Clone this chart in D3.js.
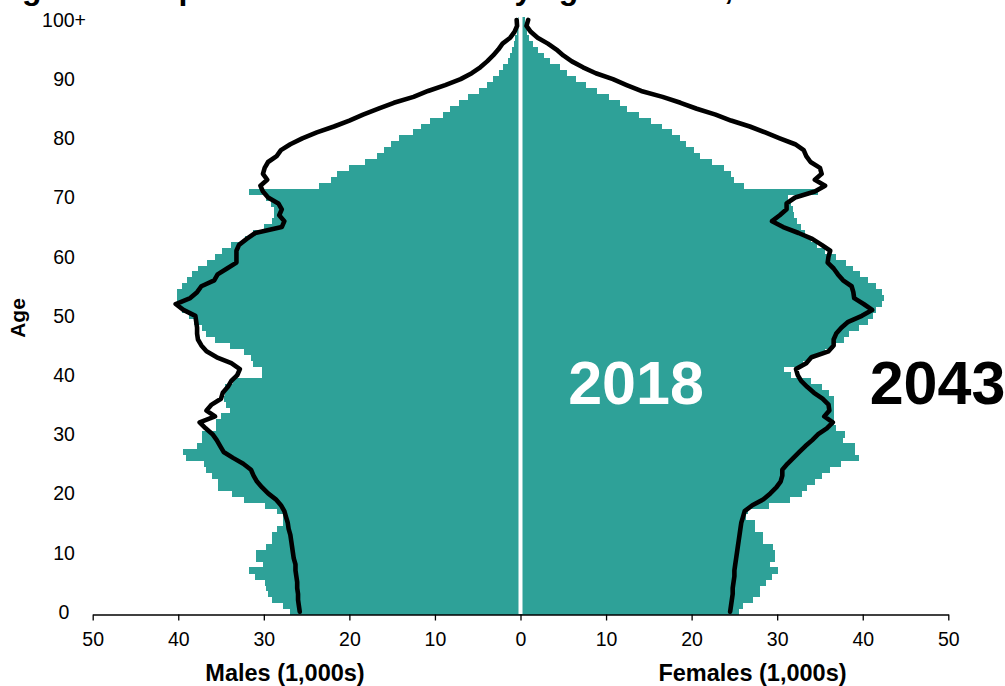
<!DOCTYPE html>
<html><head><meta charset="utf-8">
<script src="https://cdn.jsdelivr.net/npm/d3@7"></script>
<style>
html,body{margin:0;padding:0;background:#fff;}
svg{display:block;font-family:"Liberation Sans",Arial,sans-serif;}
</style></head><body>
<svg id="chart" width="1005" height="686"></svg>
<script>
// ---- Data (thousands of people) ----
const ages = d3.range(0, 101); // 0 .. 100+ (single years)
const ageTickValues = [0, 10, 20, 30, 40, 50, 60, 70, 80, 90, 100];
const ageTickLabels = ["0", "10", "20", "30", "40", "50", "60", "70", "80", "90", "100+"];
const xTickValues = [-50, -40, -30, -20, -10, 0, 10, 20, 30, 40, 50];

const male2018 = [
 26.9,27.8,29.1,29.5,29.7,29.9,31.0,31.7,30.1,30.9,
 30.9,29.8,29.1,29.1,28.5,27.7,27.7,28.5,29.9,32.3,
 33.7,35.3,35.3,36.0,36.7,37.0,39.1,39.4,37.8,37.2,
 37.2,35.6,35.6,35.0,33.9,34.4,34.6,34.5,34.5,33.6,
 30.2,30.2,31.3,31.5,32.3,34.0,35.7,36.7,37.2,38.2,
 38.8,39.6,40.0,40.2,40.1,39.6,39.0,38.4,37.7,36.6,
 35.7,34.9,33.8,32.2,31.3,30.0,29.0,28.8,28.8,29.2,
 29.7,31.7,23.5,22.2,21.5,20.0,18.2,16.8,16.0,15.1,
 14.2,12.6,11.6,10.6,9.1,8.2,7.2,6.1,4.9,3.9,
 3.2,2.5,2.0,1.5,1.2,0.95,0.8,0.6,0.45,0.35,
 0.3
];
const female2018 = [
 25.5,26.0,27.2,28.0,28.0,28.7,29.4,30.1,29.2,29.7,
 29.7,29.5,28.4,28.4,27.4,27.4,26.4,26.6,29.0,31.5,
 32.9,33.5,34.4,35.2,36.2,37.5,39.6,39.1,39.1,37.7,
 37.9,36.9,36.6,36.6,36.6,36.6,36.6,36.0,35.2,34.0,
 31.6,30.8,33.0,33.8,35.6,36.6,37.8,38.4,39.6,40.6,
 41.2,41.5,42.2,42.5,42.3,41.6,40.6,39.7,38.9,38.1,
 36.9,35.6,34.6,34.0,33.3,32.8,32.3,32.0,31.8,31.6,
 31.3,34.8,26.1,25.0,24.6,23.8,22.4,21.0,20.3,19.4,
 18.6,17.7,16.5,15.3,13.9,12.5,11.6,10.4,8.9,7.7,
 6.5,5.4,4.6,3.4,2.7,2.1,1.5,1.0,0.8,0.6,
 0.5
];
const male2043 = [
 25.8,25.9,26.0,26.0,26.1,26.1,26.2,26.3,26.3,26.5,
 26.6,26.7,26.8,26.9,27.1,27.2,27.4,27.6,28.0,28.6,
 29.5,30.2,30.8,31.2,31.5,32.4,33.6,34.7,35.1,35.5,
 36.0,36.8,37.5,35.7,36.7,36.1,35.0,34.8,34.2,33.8,
 33.1,32.8,33.8,35.5,36.7,37.3,37.7,37.8,37.8,37.9,
 38.0,39.4,40.3,38.6,37.8,37.3,35.8,35.4,34.3,33.2,
 33.2,33.2,32.9,32.0,31.0,27.9,27.6,28.2,27.9,28.3,
 29.5,30.1,30.4,29.6,30.1,29.9,29.5,28.5,28.0,26.9,
 25.5,23.8,21.8,20.0,18.4,16.6,14.8,12.5,10.8,8.8,
 7.0,5.7,4.7,3.9,3.2,2.6,2.1,1.2,0.7,0.4,
 0.45
];
const female2043 = [
 24.5,24.6,24.7,24.8,24.8,24.9,25.0,25.0,25.1,25.2,
 25.3,25.4,25.5,25.6,25.7,25.8,26.0,26.2,27.1,28.4,
 29.2,29.9,30.4,30.6,30.6,31.2,31.9,32.6,33.3,34.1,
 34.8,35.8,36.5,35.5,36.1,36.0,35.3,34.3,33.5,32.8,
 32.4,32.2,33.4,34.0,36.0,36.6,36.6,36.9,37.5,38.3,
 39.9,41.1,40.1,39.0,38.9,38.7,37.7,37.1,36.6,35.9,
 36.0,36.2,35.2,34.1,32.5,30.7,29.4,30.3,31.1,31.1,
 32.1,34.4,35.6,34.4,35.2,35.0,33.9,33.4,33.1,32.1,
 30.3,28.6,26.8,24.6,22.8,20.6,18.7,16.6,14.1,12.4,
 10.8,8.8,7.3,6.0,5.0,4.2,3.2,2.0,1.2,0.7,
 0.9
];

const titleText = "Figure 1: Population of Scotland by age and sex, 2018 and 2043";
const maleAxisTitle = "Males (1,000s)";
const femaleAxisTitle = "Females (1,000s)";
const ageAxisTitle = "Age";
const label2018 = "2018";
const label2043 = "2043";

// ---- Drawing ----
const TEAL = "#2ea198";
const svg = d3.select("#chart");

const x = d3.scaleLinear().domain([-50, 50]).range([92.7, 948.3]);
const y = d3.scaleBand().domain(ages).range([614.7, 17.0]).padding(0);
const bw = y.bandwidth();
const yc = a => y(a) + bw / 2;

// title (mostly cropped at the top edge)
svg.append("text")
  .attr("x", -6.5).attr("y", -1)
  .attr("font-size", 32).attr("font-weight", "bold").attr("fill", "#000")
  .text(titleText);

// bars 2018
const bars = svg.append("g").attr("shape-rendering", "crispEdges").attr("fill", TEAL);
bars.selectAll("rect.m").data(ages).join("rect").attr("class", "m")
  .attr("x", a => x(-male2018[a])).attr("width", a => x(0) - x(-male2018[a]))
  .attr("y", a => y(a)).attr("height", bw + 0.4);
bars.selectAll("rect.f").data(ages).join("rect").attr("class", "f")
  .attr("x", x(0)).attr("width", a => x(female2018[a]) - x(0))
  .attr("y", a => y(a)).attr("height", bw + 0.4);

// white centre divider
svg.append("line")
  .attr("x1", x(0)).attr("x2", x(0)).attr("y1", 17).attr("y2", 614)
  .attr("stroke", "#fff").attr("stroke-width", 4);

// 2043 lines
const lineM = d3.line().x(a => x(-male2043[a])).y(a => yc(a));
const lineF = d3.line().x(a => x(female2043[a])).y(a => yc(a));
[lineM, lineF].forEach(l => {
  svg.append("path").attr("d", l(ages))
    .attr("fill", "none").attr("stroke", "#000").attr("stroke-width", 4.6)
    .attr("stroke-linejoin", "round").attr("stroke-linecap", "round");
});

// x axis
const xAxis = svg.append("g").attr("transform", "translate(0,614.5)")
  .call(d3.axisBottom(x).tickValues(xTickValues).tickFormat(d => Math.abs(d))
    .tickSize(6).tickSizeOuter(0).tickPadding(12));
xAxis.attr("font-family", "'Liberation Sans', Arial, sans-serif").attr("font-size", 19.5);
xAxis.select(".domain").attr("stroke", "#000").attr("stroke-width", 1.3);
xAxis.selectAll(".tick line").attr("stroke", "#000").attr("stroke-width", 1.3);
xAxis.selectAll(".tick text").attr("fill", "#000");

// age labels
svg.append("g").selectAll("text").data(ageTickValues).join("text")
  .attr("x", 64).attr("y", a => yc(a))
  .attr("text-anchor", "middle").attr("dominant-baseline", "central")
  .attr("font-size", 19.5).attr("fill", "#000")
  .text((a, i) => ageTickLabels[i]);

// axis titles
svg.append("text").attr("transform", "translate(25,318) rotate(-90)")
  .attr("text-anchor", "middle").attr("font-size", 21).attr("font-weight", "bold")
  .text(ageAxisTitle);
svg.append("text").attr("x", 285).attr("y", 681).attr("text-anchor", "middle")
  .attr("font-size", 23.5).attr("font-weight", "bold").text(maleAxisTitle);
svg.append("text").attr("x", 752.5).attr("y", 681).attr("text-anchor", "middle")
  .attr("font-size", 23.5).attr("font-weight", "bold").text(femaleAxisTitle);

// year labels
svg.append("text").attr("x", 636).attr("y", 404).attr("text-anchor", "middle")
  .attr("font-size", 61).attr("font-weight", "bold").attr("fill", "#fff").text(label2018);
svg.append("text").attr("x", 937.5).attr("y", 404).attr("text-anchor", "middle")
  .attr("font-size", 61).attr("font-weight", "bold").attr("fill", "#000").text(label2043);
</script>
</body></html>
